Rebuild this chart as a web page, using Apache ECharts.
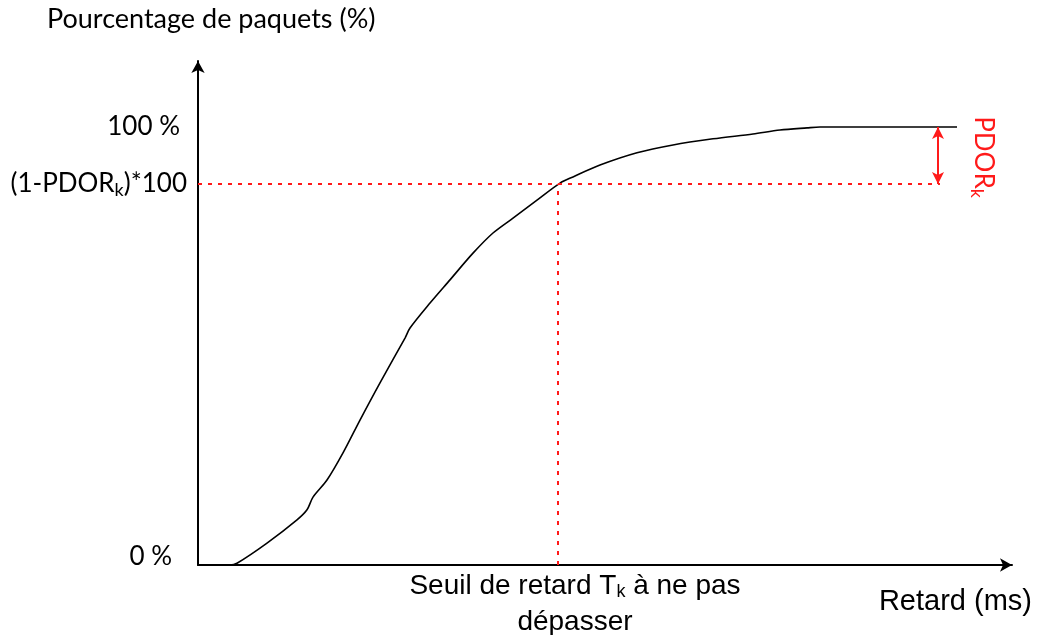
<!DOCTYPE html>
<html>
<head>
<meta charset="utf-8">
<script src="https://cdn.jsdelivr.net/npm/echarts@6/dist/echarts.min.js"></script>
<style>
  html, body { margin: 0; padding: 0; background: #fff; }
  #container { width: 1037px; height: 635px; }
</style>
</head>
<body>
<div id="container"></div>
<script>
// courbe cumulative du retard (unités arbitraires)
const delay = [0, 32, 39, 69, 99, 109, 115, 129, 145, 162, 182, 207, 212, 232, 252, 275, 295, 315, 339, 362, 375, 402, 439, 475, 515, 555, 582, 609, 622, 759]
const percent = [0, 0, 0.4, 5.0, 10.3, 12.6, 15.5, 19.4, 25.6, 33.1, 41.6, 51.8, 54.1, 59.8, 65.1, 71.2, 75.8, 79.2, 83.3, 87.2, 88.6, 91.3, 94.1, 95.9, 97.3, 98.4, 99.3, 99.8, 100, 100]

const thresholdDelay = 360
const pdorLevel = 87
const dottedEnd = 742
const arrowX = 740
const yTicks = [0, pdorLevel, 100]
const yTickLabels = ['{z|0 %}', '(1-PDOR{k|k})*100', '{h|100 %}']

let chartDom = document.getElementById('container')
let myChart = echarts.init(chartDom, null, { renderer: 'canvas' })
let font = 'Lato'
let arial = '"Liberation Sans"'
let red = '#ff1a1a'

let option = {
  animation: false,
  grid: {
    left: 198,
    right: 25,
    top: 61,
    bottom: 70
  },
  xAxis: {
    type: 'value',
    min: 0,
    max: 814,
    splitLine: { show: false },
    axisTick: { show: false },
    axisLabel: { show: false },
    axisLine: {
      show: true,
      symbol: ['none', 'arrow'],
      symbolSize: [10, 12],
      lineStyle: { color: '#000', width: 2 }
    }
  },
  yAxis: {
    type: 'value',
    min: 0,
    max: 115.07,
    splitLine: { show: false },
    axisTick: { show: false },
    axisLine: {
      show: true,
      onZero: false,
      symbol: ['none', 'arrow'],
      symbolSize: [10, 12],
      lineStyle: { color: '#000', width: 2 }
    },
    axisLabel: {
      customValues: yTicks,
      margin: 11,
      color: '#000',
      fontFamily: font,
      fontSize: 26,
      formatter: function(value) {
        return yTickLabels[yTicks.indexOf(value)]
      },
      rich: {
        k: { fontSize: 18, fontFamily: font, color: '#000', padding: [12, 0, 0, 0] },
        h: { fontSize: 26, fontFamily: font, color: '#000', padding: [0, 7, 0, 0] },
        z: { fontSize: 26, fontFamily: font, color: '#000', padding: [0, 15, 16, 0] }
      }
    }
  },
  series: [
    {
      type: 'line',
      data: delay.map((d, i) => [d, percent[i]]),
      smooth: 0.3,
      showSymbol: false,
      lineStyle: { color: '#000', width: 1.6 },
      markLine: {
        silent: true,
        symbol: ['none', 'none'],
        label: { show: false },
        lineStyle: { color: red, width: 2, type: [4, 6] },
        data: [
          [{ coord: [0, pdorLevel] }, { coord: [dottedEnd, pdorLevel] }],
          [{ coord: [thresholdDelay, 0] }, { coord: [thresholdDelay, pdorLevel] }],
          [
            {
              coord: [arrowX, 100],
              symbol: 'arrow',
              lineStyle: { type: 'solid', width: 2, color: red }
            },
            { coord: [arrowX, pdorLevel], symbol: 'arrow' }
          ]
        ],
        symbolSize: [9, 12]
      }
    }
  ],
  graphic: [
    {
      type: 'text',
      left: 47,
      top: 6,
      style: { text: 'Pourcentage de paquets (%)', font: '27px ' + font, fill: '#000' }
    },
    {
      type: 'text',
      x: 983,
      y: 157,
      rotation: -Math.PI / 2,
      style: {
        text: 'PDOR{k|k}',
        align: 'center',
        verticalAlign: 'middle',
        fill: red,
        font: '26px ' + font,
        rich: {
          k: { fontSize: 18, fontFamily: font, fill: red, padding: [12, 0, 0, 0] }
        }
      }
    },
    {
      type: 'text',
      right: 5,
      top: 587,
      style: { text: 'Retard (ms)', font: '29px ' + arial, fill: '#000' }
    },
    {
      type: 'text',
      x: 575,
      y: 568,
      style: {
        text: 'Seuil de retard T{k|k} à ne pas\ndépasser',
        align: 'center',
        fill: '#000',
        font: '28px ' + arial,
        lineHeight: 36,
        rich: {
          k: { fontSize: 18, fontFamily: 'Liberation Sans', fill: '#000', padding: [12, 0, 0, 0] }
        }
      }
    }
  ]
}

option && myChart.setOption(option)

window.addEventListener('resize', function() {
  myChart.resize()
})
</script>
</body>
</html>
